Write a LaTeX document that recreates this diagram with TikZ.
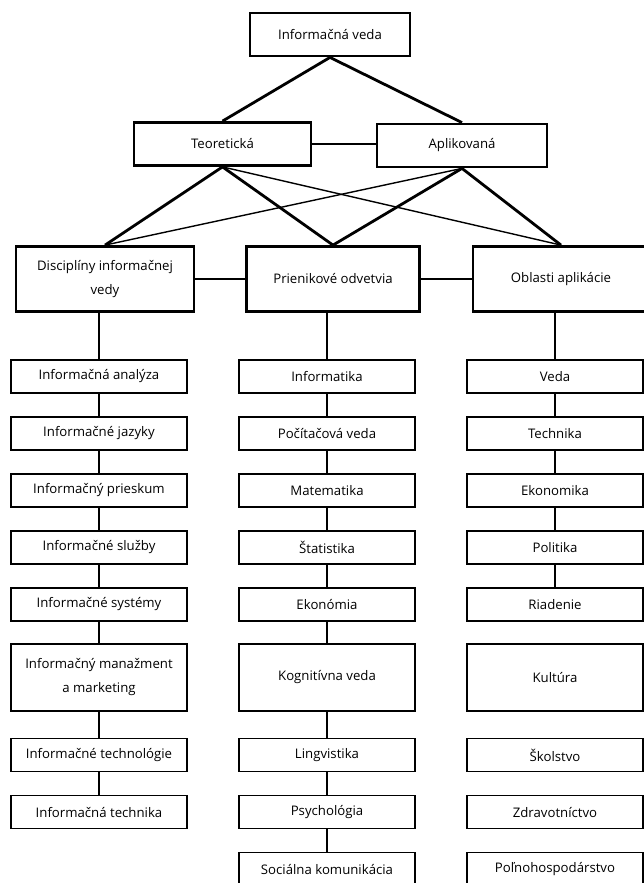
\documentclass[tikz,border=0pt]{standalone}
\usepackage{fontspec}
\setmainfont{Open Sans}
\tikzset{
	hlavny/.style={draw,line width=2.8pt,align=center,minimum height=43pt,inner sep=2pt,font=\fontsize{13.2}{24}\selectfont},
	polozka/.style={draw,line width=1.8pt,align=center,minimum width=176pt,minimum height=33pt,inner sep=2pt,font=\fontsize{13.2}{24}\selectfont},
	hrubo/.style={line width=2.8pt},
	tenko/.style={line width=1.4pt}
}
\begin{document}
\begin{tikzpicture}[x=1pt,y=-1pt]
	\useasboundingbox (0,0) rectangle (644,883);

	\node[hlavny,minimum width=160pt] (InfoVeda)   at (330,34.5)   {Informačná veda};
	\node[hlavny,minimum width=177pt] (Teoreticka) at (222.5,144) {Teoretická};
	\node[hlavny,minimum width=170pt] (Aplikovana) at (462,145.5)  {Aplikovaná};

	\node[hlavny,minimum width=178pt,minimum height=65pt] (Discipliny) at (105,279) {Disciplíny informačnej\\vedy};
	\node[hlavny,minimum width=173pt,minimum height=65pt] (Prienikove) at (333,279) {Prienikové odvetvia};
	\node[hlavny,minimum width=176pt,minimum height=65pt] (Oblasti)    at (561,279) {Oblasti aplikácie};

	% disciplíny
	\node[polozka] (Analyza)     at (99,376.5) {Informačná analýza};
	\node[polozka] (Jazyky)      at (99,433.5) {Informačné jazyky};
	\node[polozka] (Prieskum)    at (99,490.5) {Informačný prieskum};
	\node[polozka] (Sluzby)      at (99,547.5) {Informačné služby};
	\node[polozka] (Systemy)     at (99,604.5) {Informačné systémy};
	\node[polozka,minimum height=67pt] (Manazment) at (99,677.5) {Informačný manažment\\a marketing};
	\node[polozka] (Technologie) at (99,755)   {Informačné technológie};
	\node[polozka] (TechnikaInf) at (99,812)   {Informačná technika};

	% prienikové odvetvia
	\node[polozka] (Informatika) at (327,376.5) {Informatika};
	\node[polozka] (PocitVeda)   at (327,433.5) {Počítačová veda};
	\node[polozka] (Matematika)  at (327,490.5) {Matematika};
	\node[polozka] (Statistika)  at (327,547.5) {Štatistika};
	\node[polozka] (Ekonomia)    at (327,604.5) {Ekonómia};
	\node[polozka,minimum height=67pt] (Kognitivna) at (327,677.5) {Kognitívna veda};
	\node[polozka] (Lingvistika) at (327,755)   {Lingvistika};
	\node[polozka] (Psychologia) at (327,812)   {Psychológia};
	\node[polozka] (Socialna)    at (327,869)   {Sociálna komunikácia};

	% oblasti aplikácie
	\node[polozka] (Veda)        at (555,376.5) {Veda};
	\node[polozka] (Technika)    at (555,433.5) {Technika};
	\node[polozka] (Ekonomika)   at (555,490.5) {Ekonomika};
	\node[polozka] (Politika)    at (555,547.5) {Politika};
	\node[polozka] (Riadenie)    at (555,604.5) {Riadenie};
	\node[polozka,minimum height=67pt] (Kultura) at (555,677.5) {Kultúra};
	\node[polozka] (Skolstvo)    at (555,755)   {Školstvo};
	\node[polozka] (Zdravotnictvo) at (555,812) {Zdravotníctvo};
	\node[polozka] (Polnohosp)   at (555,869)   {Poľnohospodárstvo};

	\draw[hrubo] (InfoVeda.south) -- (Teoreticka.north);
	\draw[hrubo] (InfoVeda.south) -- (Aplikovana.north);
	\draw[hrubo] (Teoreticka.east) -- (Teoreticka.east -| Aplikovana.west);

	\draw[hrubo] (Teoreticka.south) -- (Discipliny.north);
	\draw[hrubo] (Teoreticka.south) -- (Prienikove.north);
	\draw[tenko] (Teoreticka.south) -- (Oblasti.north);
	\draw[hrubo] (Aplikovana.south) -- (Prienikove.north);
	\draw[hrubo] (Aplikovana.south) -- (Oblasti.north);
	\draw[tenko] (Aplikovana.south) -- (Discipliny.north);

	\draw[hrubo] (Discipliny.east) -- (Prienikove.west);
	\draw[hrubo] (Prienikove.east) -- (Oblasti.west);

	\draw[tenko] (Analyza.north) -- (Analyza.north |- Discipliny.south);
	\draw[tenko] (Analyza) -- (Jazyky) -- (Prieskum) -- (Sluzby) -- (Systemy) -- (Manazment) -- (Technologie) -- (TechnikaInf);
	\draw[tenko] (Informatika.north) -- (Informatika.north |- Prienikove.south);
	\draw[tenko] (Informatika) -- (PocitVeda) -- (Matematika) -- (Statistika) -- (Ekonomia) -- (Kognitivna) -- (Lingvistika) -- (Psychologia) -- (Socialna);
	\draw[tenko] (Veda.north) -- (Veda.north |- Oblasti.south);
	\draw[tenko] (Veda) -- (Technika) -- (Ekonomika) -- (Politika) -- (Riadenie);
\end{tikzpicture}
\end{document}
